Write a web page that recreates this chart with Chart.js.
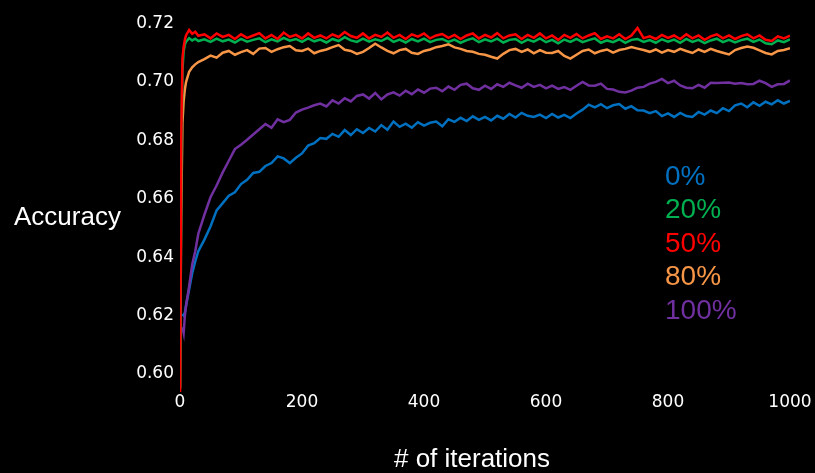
<!DOCTYPE html>
<html>
<head>
<meta charset="utf-8">
<script src="https://cdn.jsdelivr.net/npm/chart.js@4/dist/chart.umd.min.js"></script>
<style>
  html, body { margin: 0; padding: 0; background: #000; }
  #wrap { width: 815px; height: 473px; position: relative; }
</style>
</head>
<body>
<div id="wrap"><canvas id="chart"></canvas></div>
<script>
// x positions (iterations) shared by every series
const iterations = [0, 2, 4, 6, 8, 10, 15, 20, 25, 30,
  40, 50, 60, 70, 80, 90, 100, 110, 120, 130,
  140, 150, 160, 170, 180, 190, 200, 210, 220, 230,
  240, 250, 260, 270, 280, 290, 300, 310, 320, 330,
  340, 350, 360, 370, 380, 390, 400, 410, 420, 430,
  440, 450, 460, 470, 480, 490, 500, 510, 520, 530,
  540, 550, 560, 570, 580, 590, 600, 610, 620, 630,
  640, 650, 660, 670, 680, 690, 700, 710, 720, 730,
  740, 750, 760, 770, 780, 790, 800, 810, 820, 830,
  840, 850, 860, 870, 880, 890, 900, 910, 920, 930,
  940, 950, 960, 970, 980, 990, 1000];

const acc0 = [null, null, 0.6205, 0.6200, 0.6210, 0.6235, 0.6290, 0.6345, 0.6385, 0.6420,
  0.6460, 0.6505, 0.6560, 0.6585, 0.6610, 0.6622, 0.6650, 0.6665, 0.6688, 0.6692,
  0.6712, 0.6722, 0.6745, 0.6738, 0.6722, 0.6740, 0.6755, 0.6782, 0.6790, 0.6808,
  0.6805, 0.6822, 0.6812, 0.6835, 0.6818, 0.6838, 0.6825, 0.6842, 0.6830, 0.6852,
  0.6836, 0.6864, 0.6846, 0.6857, 0.6843, 0.6862, 0.6850, 0.6860, 0.6864, 0.6848,
  0.6872, 0.6863, 0.6877, 0.6866, 0.6882, 0.6870, 0.6880, 0.6868, 0.6884, 0.6874,
  0.6890, 0.6878, 0.6894, 0.6884, 0.6880, 0.6888, 0.6876, 0.6890, 0.6878, 0.6887,
  0.6876, 0.6892, 0.6905, 0.6922, 0.6913, 0.6924, 0.6910, 0.6920, 0.6924, 0.6908,
  0.6917, 0.6903, 0.6902, 0.6893, 0.6900, 0.6883, 0.6892, 0.6880, 0.6894, 0.6883,
  0.6880, 0.6897, 0.6888, 0.6902, 0.6893, 0.6910, 0.6900, 0.6920, 0.6926, 0.6913,
  0.6930, 0.6918, 0.6932, 0.6923, 0.6937, 0.6926, 0.6935];

const acc20 = [0.5950, 0.6720, 0.7040, 0.7105, 0.7128, 0.7138, 0.7150, 0.7142, 0.7148, 0.7140,
  0.7146, 0.7137, 0.7148, 0.7139, 0.7145, 0.7135, 0.7147, 0.7138, 0.7144, 0.7149,
  0.7136, 0.7146, 0.7139, 0.7151, 0.7141, 0.7147, 0.7137, 0.7149, 0.7139, 0.7145,
  0.7135, 0.7147, 0.7140, 0.7153, 0.7142, 0.7137, 0.7148, 0.7138, 0.7146, 0.7140,
  0.7151, 0.7137, 0.7145, 0.7135, 0.7147, 0.7139, 0.7148, 0.7136, 0.7144, 0.7147,
  0.7137, 0.7145, 0.7134, 0.7143, 0.7149, 0.7136, 0.7146, 0.7139, 0.7148, 0.7135,
  0.7144, 0.7147, 0.7134, 0.7145, 0.7138, 0.7149, 0.7136, 0.7144, 0.7132, 0.7145,
  0.7137, 0.7147, 0.7136, 0.7143, 0.7149, 0.7134, 0.7142, 0.7136, 0.7146, 0.7134,
  0.7144, 0.7147, 0.7137, 0.7143, 0.7134, 0.7146, 0.7138, 0.7145, 0.7134, 0.7147,
  0.7137, 0.7144, 0.7133, 0.7142, 0.7148, 0.7136, 0.7144, 0.7135, 0.7143, 0.7148,
  0.7137, 0.7145, 0.7132, 0.7129, 0.7142, 0.7136, 0.7146];

const acc50 = [0.5900, 0.6800, 0.7080, 0.7120, 0.7145, 0.7160, 0.7178, 0.7165, 0.7172, 0.7158,
  0.7163, 0.7149, 0.7166, 0.7154, 0.7161, 0.7147, 0.7163, 0.7151, 0.7159, 0.7167,
  0.7149, 0.7161, 0.7147, 0.7169, 0.7154, 0.7161, 0.7149, 0.7166, 0.7151, 0.7159,
  0.7149, 0.7163, 0.7154, 0.7171, 0.7157, 0.7151, 0.7166, 0.7149, 0.7161, 0.7154,
  0.7169, 0.7151, 0.7161, 0.7147, 0.7163, 0.7155, 0.7166, 0.7149, 0.7159, 0.7164,
  0.7151, 0.7161, 0.7147, 0.7159, 0.7166, 0.7149, 0.7161, 0.7152, 0.7167, 0.7149,
  0.7159, 0.7163, 0.7147, 0.7161, 0.7151, 0.7166, 0.7149, 0.7159, 0.7144, 0.7161,
  0.7151, 0.7164, 0.7149, 0.7159, 0.7167, 0.7147, 0.7156, 0.7149, 0.7163, 0.7147,
  0.7159, 0.7185, 0.7150, 0.7156, 0.7147, 0.7161, 0.7151, 0.7159, 0.7147, 0.7163,
  0.7149, 0.7159, 0.7144, 0.7156, 0.7163, 0.7149, 0.7159, 0.7147, 0.7157, 0.7163,
  0.7149, 0.7159, 0.7144, 0.7140, 0.7156, 0.7149, 0.7158];

const acc80 = [0.5950, 0.6550, 0.6860, 0.6935, 0.6975, 0.7000, 0.7035, 0.7050, 0.7060, 0.7068,
  0.7078, 0.7090, 0.7083, 0.7100, 0.7106, 0.7093, 0.7102, 0.7109, 0.7096, 0.7114,
  0.7116, 0.7103, 0.7112, 0.7119, 0.7123, 0.7108, 0.7106, 0.7114, 0.7098, 0.7106,
  0.7111, 0.7119, 0.7126, 0.7110, 0.7106, 0.7096, 0.7103, 0.7116, 0.7131, 0.7118,
  0.7106, 0.7098, 0.7109, 0.7113, 0.7100, 0.7096, 0.7106, 0.7111, 0.7119, 0.7123,
  0.7129, 0.7118, 0.7113, 0.7106, 0.7103, 0.7096, 0.7093, 0.7086, 0.7080, 0.7096,
  0.7109, 0.7113, 0.7103, 0.7111, 0.7098, 0.7109, 0.7100, 0.7099, 0.7106, 0.7089,
  0.7080, 0.7093, 0.7106, 0.7111, 0.7098, 0.7106, 0.7111, 0.7100, 0.7109, 0.7113,
  0.7119, 0.7114, 0.7109, 0.7103, 0.7111, 0.7100, 0.7109, 0.7103, 0.7113, 0.7106,
  0.7099, 0.7111, 0.7103, 0.7113, 0.7106, 0.7100, 0.7094, 0.7109, 0.7116, 0.7121,
  0.7117, 0.7108, 0.7099, 0.7094, 0.7106, 0.7109, 0.7115];

const acc100 = [null, null, 0.6160, 0.6140, 0.6200, 0.6235, 0.6300, 0.6375, 0.6420, 0.6480,
  0.6545, 0.6605, 0.6645, 0.6690, 0.6730, 0.6770, 0.6785, 0.6802, 0.6820, 0.6838,
  0.6856, 0.6843, 0.6872, 0.6862, 0.6870, 0.6895, 0.6905, 0.6912, 0.6920, 0.6926,
  0.6916, 0.6937, 0.6926, 0.6944, 0.6933, 0.6952, 0.6957, 0.6943, 0.6962, 0.6940,
  0.6957, 0.6964, 0.6953, 0.6970, 0.6958, 0.6974, 0.6963, 0.6977, 0.6980, 0.6968,
  0.6984, 0.6973, 0.6990, 0.6994, 0.6978, 0.6973, 0.6987, 0.6976, 0.6992, 0.6983,
  0.6997, 0.6988, 0.6980, 0.6994, 0.6983, 0.6990, 0.6978, 0.6987, 0.6976, 0.6982,
  0.6973, 0.6987, 0.7000, 0.6988, 0.6987, 0.6994, 0.6976, 0.6974, 0.6966, 0.6964,
  0.6970, 0.6980, 0.6983, 0.6994, 0.7000, 0.7010, 0.6996, 0.7004, 0.6988, 0.6980,
  0.6978, 0.6990, 0.6980, 0.6997, 0.6996, 0.6997, 0.6998, 0.6994, 0.6996, 0.6992,
  0.6993, 0.7004, 0.6996, 0.6983, 0.6992, 0.6993, 0.7005];

const seriesLabels = ['0%', '20%', '50%', '80%', '100%'];
const seriesValues = [acc0, acc20, acc50, acc80, acc100];
const seriesColors = ['#0070C0', '#00B050', '#FF0000', '#F79646', '#7030A0'];
// drawing order: lower = on top (red over green over orange)
const seriesOrder = [4, 1, 0, 2, 3];

const xTicks = [0, 200, 400, 600, 800, 1000];
const yTicks = [0.60, 0.62, 0.64, 0.66, 0.68, 0.70, 0.72];

const datasets = seriesLabels.map((label, i) => ({
  label: label,
  data: seriesValues[i].map((v, j) => ({ x: iterations[j], y: v })),
  borderColor: seriesColors[i],
  backgroundColor: seriesColors[i],
  borderWidth: 2.5,
  pointRadius: 0,
  tension: 0,
  order: seriesOrder[i]
}));

// axis titles and the coloured legend text inside the plot
const sideText = {
  id: 'sideText',
  afterDraw(chart) {
    const ctx = chart.ctx;
    ctx.save();
    ctx.textBaseline = 'middle';
    ctx.fillStyle = '#fff';
    ctx.font = "26px 'Liberation Sans', Arial, sans-serif";
    ctx.textAlign = 'left';
    ctx.fillText('Accuracy', 14, 218);
    ctx.textAlign = 'center';
    ctx.fillText('# of iterations', 472, 460);
    ctx.textAlign = 'left';
    ctx.font = "28px 'Liberation Sans', Arial, sans-serif";
    chart.data.datasets.forEach((ds, i) => {
      ctx.fillStyle = ds.borderColor;
      ctx.fillText(ds.label, 665, 177 + i * 33.5);
    });
    ctx.restore();
  }
};

new Chart(document.getElementById('chart'), {
  type: 'line',
  data: { datasets: datasets },
  options: {
    responsive: true,
    maintainAspectRatio: false,
    animation: false,
    layout: { padding: { top: 15, right: 25, bottom: 0, left: 0 } },
    plugins: {
      legend: { display: false },
      tooltip: { enabled: false }
    },
    scales: {
      x: {
        type: 'linear',
        min: 0,
        max: 1000,
        afterFit: (scale) => { scale.height = 81; },
        afterBuildTicks: (scale) => { scale.ticks = xTicks.map(v => ({ value: v })); },
        grid: { display: false, drawTicks: false },
        border: { display: false },
        ticks: {
          color: '#fff',
          padding: 0,
          maxRotation: 0,
          font: { family: "'DejaVu Sans', sans-serif", size: 17 },
          callback: (v) => String(v)
        }
      },
      y: {
        min: 0.5938,
        max: 0.7225,
        afterFit: (scale) => { scale.width = 180; },
        afterBuildTicks: (scale) => { scale.ticks = yTicks.map(v => ({ value: v })); },
        grid: { display: false, drawTicks: false },
        border: { display: false },
        ticks: {
          color: '#fff',
          padding: 6,
          font: { family: "'DejaVu Sans', sans-serif", size: 17 },
          callback: (v) => Number(v).toFixed(2)
        }
      }
    }
  },
  plugins: [sideText]
});
</script>
</body>
</html>
